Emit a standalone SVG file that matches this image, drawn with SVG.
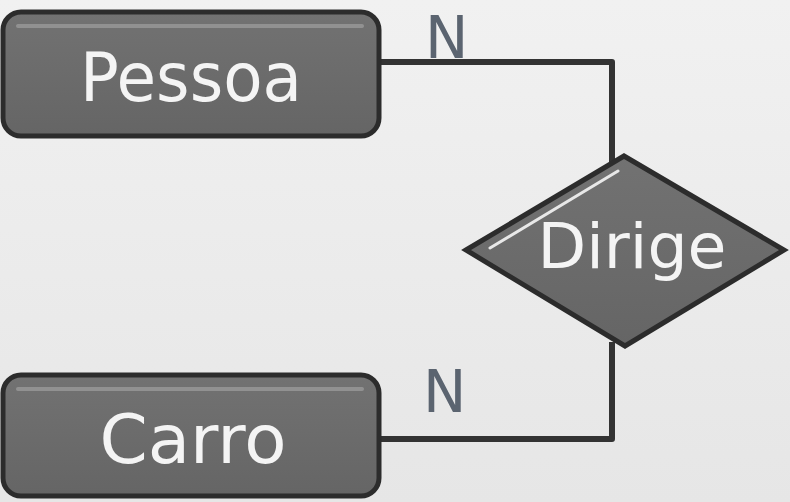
<svg xmlns="http://www.w3.org/2000/svg" width="790" height="502" viewBox="0 0 790 502">
<defs>
<linearGradient id="bg" x1="0" y1="0" x2="0" y2="1">
<stop offset="0" stop-color="#f1f1f1"/>
<stop offset="1" stop-color="#e6e6e6"/>
</linearGradient>
<linearGradient id="boxfill" x1="0" y1="0" x2="0" y2="1">
<stop offset="0" stop-color="#727272"/>
<stop offset="1" stop-color="#656565"/>
</linearGradient>
</defs>
<style>
.box{fill:url(#boxfill);stroke:#2c2c2c;stroke-width:5}
.hl{stroke:#9a9a9a;stroke-width:4;fill:none;stroke-linecap:round;opacity:0.8}
.lbl{font-family:"DejaVu Sans","Liberation Sans",sans-serif;fill:#f4f4f4;text-anchor:middle}
.card{font-family:"DejaVu Sans","Liberation Sans",sans-serif;fill:#5b6470;font-size:58px}
.conn{fill:none;stroke:#333;stroke-width:6;stroke-linejoin:round}
</style>
<rect width="790" height="502" fill="url(#bg)"/>
<g id="connectors">
<polyline class="conn" points="380,62 612,62 612,162"/>
<polyline class="conn" points="380,439 612,439 612,342"/>
</g>
<g id="pessoa">
<rect class="box" x="3" y="12" width="376" height="124" rx="18"/>
<line class="hl" x1="18" y1="26" x2="362" y2="26"/>
<text class="lbl" x="191" y="101" font-size="68" textLength="222" lengthAdjust="spacingAndGlyphs">Pessoa</text>
</g>
<g id="carro">
<rect class="box" x="3" y="375" width="376" height="121" rx="18"/>
<line class="hl" x1="18" y1="389" x2="362" y2="389"/>
<text class="lbl" x="193" y="463" font-size="68" textLength="187" lengthAdjust="spacingAndGlyphs">Carro</text>
</g>
<g id="dirige">
<polygon class="box" points="466,250 624,156 784,250 625,346"/>
<line x1="490" y1="248" x2="618" y2="171" stroke="#e8e8e8" stroke-width="3" stroke-linecap="round"/>
<text class="lbl" x="632" y="268" font-size="62" textLength="189" lengthAdjust="spacingAndGlyphs">Dirige</text>
</g>
<g id="labels">
<text class="card" x="425" y="58">N</text>
<text class="card" x="423" y="412">N</text>
</g>
</svg>
